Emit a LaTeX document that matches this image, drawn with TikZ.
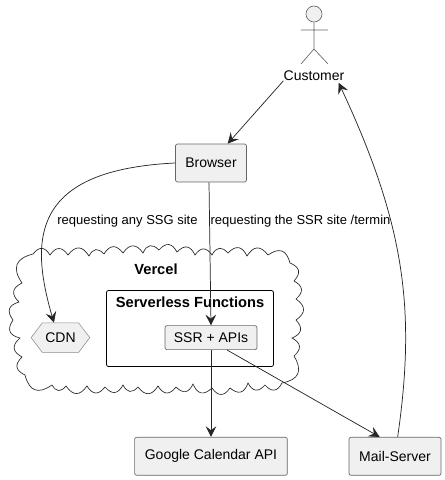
\documentclass[tikz,border=0pt]{standalone}
\usepackage{fontspec}
\setmainfont{Liberation Sans}
\usepackage{tikz}
\usetikzlibrary{arrows.meta,positioning,shapes.symbols}

\begin{document}
\begin{tikzpicture}[
  x=0.75pt, y=-0.75pt,
  box/.style={draw=black!60, fill=black!6, rounded corners=1.5pt, align=center, inner sep=0pt,
              font=\fontsize{10.5}{12}\selectfont, line width=0.5pt},
  hexbox/.style={shape=signal, signal to=east and west, signal pointer angle=106, draw=black!45,
              fill=black!6, inner sep=0pt, minimum width=44pt, minimum height=22pt,
              font=\fontsize{10.5}{12}\selectfont, line width=0.4pt},
  group/.style={draw=black, rounded corners=1.5pt, line width=0.6pt, inner sep=0pt},
  title/.style={font=\fontsize{11}{13}\selectfont\bfseries, inner sep=0pt},
  lbl/.style={font=\fontsize{9.75}{12}\selectfont, inner sep=0pt},
  stick/.style={draw=black!60, line width=0.5pt},
  arr/.style={-{Stealth[length=8pt, width=8pt, inset=3pt]}, draw=black!85, line width=0.55pt}
]
\useasboundingbox (0,0) rectangle (445,480);

% cloud
\draw[black!85, line width=0.5pt] (33,254)
  foreach \cx/\cy in {50/255, 68/255, 89/256, 104/254, 123/253, 143/253, 159/250, 177/252,
    195/255, 212/255, 228/253, 247/256, 268/255, 290/263, 294/281, 296/299, 296/320, 292/338,
    294/356, 282/383, 265/385, 248/383, 230/388, 212/388, 193/384, 176/387, 158/386, 138/387,
    123/385, 105/387, 87/386, 66/386, 52/385, 25/375, 22/357, 20/338, 13/320, 19/302, 22/283,
    33/254} { to[bend left=55, looseness=1.5] (\cx,\cy) };
\node[title] (vercel) at (156,269) {Vercel};

\node[draw=black!60, fill=black!6, circle, minimum size=16pt*0.75, inner sep=0pt, line width=0.5pt] (head) at (314,14) {};
\coordinate (hip) at (314,49);
\coordinate (larm) at (301,30);
\coordinate (rarm) at (328,30);
\coordinate (lfoot) at (301,64);
\coordinate (rfoot) at (328,64);
\draw[stick] (head) -- (hip) (larm) -- (rarm) (lfoot) -- (hip) -- (rfoot);
\node[lbl, font=\fontsize{10.5}{12}\selectfont, below=1pt of head.south, yshift=-35pt] (customer) {Customer};

\node[box, minimum width=53.25pt, minimum height=28.5pt] (browser) at (211,163) {Browser};
\node[box, minimum width=114.5pt, minimum height=28.5pt] (google) at (211,456.3) {Google Calendar API};
\node[box, minimum width=69pt, minimum height=28.5pt, right=45.75pt of google] (mail) {Mail-Server};

\node[group, minimum width=125.25pt, minimum height=57pt] (funcs) at (190,328.5) {};
\node[title, below=5pt of funcs.north] (funcstitle) {Serverless Functions};
\node[box, minimum width=69pt, minimum height=18pt, above=65.25pt of google] (ssr) {SSR + APIs};
\node[hexbox, left=55.9pt of ssr] (cdn) {CDN};

\draw[arr] (customer.south west) -- ([xshift=12.5pt]browser.north);
\draw[arr] (browser.west) .. controls (30,170) and (30,240) .. ([xshift=-4.9pt]cdn.north);
\draw[arr] ([xshift=-1.5pt]browser.south) -- (ssr.north);
\draw[arr] (ssr.south) -- (google.north);
\draw[arr] ([xshift=12pt]ssr.south) -- ([xshift=-11.5pt]mail.north);
\draw[arr] ([xshift=2pt]mail.north) .. controls (416,310) and (405,225) .. ([xshift=18.5pt,yshift=-1.5pt]customer.south);

\node[lbl] (ssglbl) at (127.5,221) {requesting any SSG site};
\node[lbl] (ssrlbl) at (300.5,221) {requesting the SSR site /termin};
\end{tikzpicture}
\end{document}
